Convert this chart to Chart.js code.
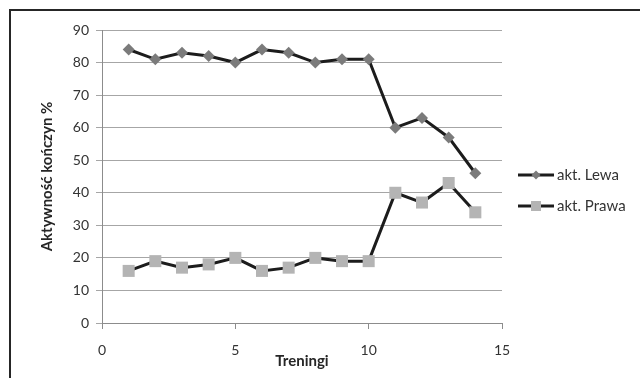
<!DOCTYPE html>
<html>
<head>
<meta charset="utf-8">
<script src="https://cdn.jsdelivr.net/npm/chart.js@4"></script>
<style>
  html, body { margin: 0; padding: 0; background: #fff; }
  #wrap { position: relative; width: 640px; height: 378px; overflow: hidden; }
  #frame { position: absolute; left: 9px; top: 9px; width: 700px; height: 450px; border: 2px solid #262626; box-sizing: border-box; }
  canvas { position: absolute; left: 0; top: 0; }
</style>
</head>
<body>
<div id="wrap">
  <div id="frame"></div>
  <canvas id="wykres" width="640" height="378"></canvas>
</div>
<script>
// treningi 1..14
const treningi = [1, 2, 3, 4, 5, 6, 7, 8, 9, 10, 11, 12, 13, 14];
const aktLewa = [84, 81, 83, 82, 80, 84, 83, 80, 81, 81, 60, 63, 57, 46];
const aktPrawa = [16, 19, 17, 18, 20, 16, 17, 20, 19, 19, 40, 37, 43, 34];
const etykiety = ['akt. Lewa', 'akt. Prawa'];

const czcionka = 'Lato, "Open Sans", sans-serif';

function punkty(vals) {
    return treningi.map((t, i) => ({ x: t, y: vals[i] }));
}

// legenda rysowana recznie (linia + znacznik jak w Excelu)
const legendaPlugin = {
    id: 'legendaExcel',
    afterDraw(chart) {
        const ctx = chart.ctx;
        const pozycje = [175, 206];
        chart.data.datasets.forEach((ds, i) => {
            const y = pozycje[i];
            ctx.save();
            ctx.strokeStyle = ds.borderColor;
            ctx.lineWidth = 3;
            ctx.beginPath();
            ctx.moveTo(518, y);
            ctx.lineTo(554, y);
            ctx.stroke();
            ctx.fillStyle = ds.pointBackgroundColor;
            ctx.beginPath();
            if (ds.pointStyle === 'rectRot') {
                ctx.moveTo(536 - 4.5, y);
                ctx.lineTo(536, y - 4.5);
                ctx.lineTo(536 + 4.5, y);
                ctx.lineTo(536, y + 4.5);
                ctx.closePath();
            } else {
                ctx.rect(536 - 5, y - 5, 10, 10);
            }
            ctx.fill();
            ctx.fillStyle = '#333';
            ctx.font = '15px ' + czcionka;
            ctx.textBaseline = 'middle';
            ctx.fillText(ds.label, 557, y);
            ctx.restore();
        });
    }
};

const ctx = document.getElementById('wykres').getContext('2d');
new Chart(ctx, {
    type: 'line',
    data: {
        datasets: [
            {
                label: etykiety[0],
                data: punkty(aktLewa),
                borderColor: '#1c1c1c',
                borderWidth: 3,
                pointStyle: 'rectRot',
                pointRadius: 6,
                pointBorderWidth: 0,
                pointBackgroundColor: '#7b7b7b',
                pointBorderColor: '#7b7b7b',
                tension: 0
            },
            {
                label: etykiety[1],
                data: punkty(aktPrawa),
                borderColor: '#1c1c1c',
                borderWidth: 3,
                pointStyle: 'rect',
                pointRadius: 8.5,
                pointBorderWidth: 0,
                pointBackgroundColor: '#b4b4b4',
                pointBorderColor: '#b4b4b4',
                tension: 0
            }
        ]
    },
    options: {
        responsive: false,
        animation: false,
        layout: { padding: { left: 0, top: 30, right: 138, bottom: 0 } },
        plugins: {
            legend: { display: false },
            tooltip: { enabled: false }
        },
        scales: {
            x: {
                type: 'linear',
                min: 0,
                max: 15,
                ticks: { stepSize: 5, padding: 13, color: '#333', font: { family: czcionka, size: 14 } },
                grid: { drawOnChartArea: false, drawTicks: true, tickLength: 6, color: '#8c8c8c' },
                border: { color: '#8c8c8c', width: 1 },
                title: { display: true, text: 'Treningi', color: '#262626', font: { family: czcionka, size: 15, weight: 'bold' }, padding: { top: 0, bottom: 8 } },
                afterFit(scale) { scale.height = 55; }
            },
            y: {
                min: 0,
                max: 90,
                ticks: { stepSize: 10, padding: 7, color: '#333', font: { family: czcionka, size: 14 } },
                grid: { drawTicks: true, tickLength: 6, color: '#a6a6a6' },
                border: { color: '#8c8c8c', width: 1 },
                title: { display: true, text: 'Aktywność kończyn %', color: '#262626', font: { family: czcionka, size: 15, weight: 'bold' }, padding: { top: 38, bottom: 0 } },
                afterFit(scale) { scale.width = 102; }
            }
        }
    },
    plugins: [legendaPlugin]
});
</script>
</body>
</html>
